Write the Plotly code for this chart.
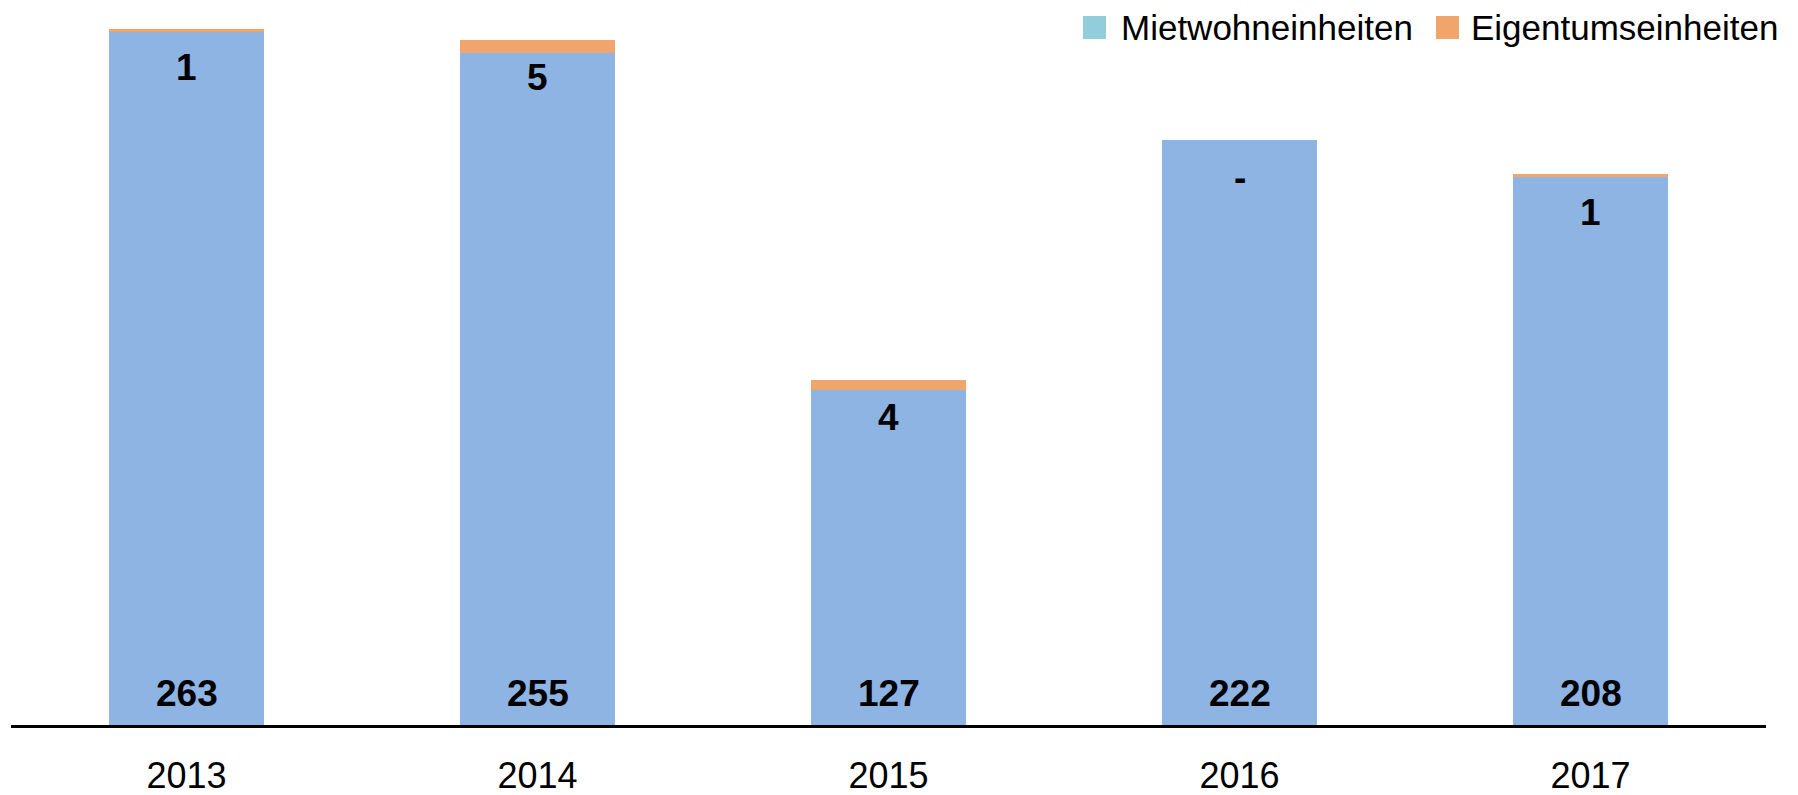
import plotly.graph_objects as go

# data
years = ["2013", "2014", "2015", "2016", "2017"]
miet = [263, 255, 127, 222, 208]
eigentum = [1, 5, 4, 0, 1]
series_names = ["Mietwohneinheiten", "Eigentumseinheiten"]

BAR_BLUE = "#8EB4E3"
LEG_BLUE = "#92CDDC"
ORANGE = "#F0A56D"
FONT = "Liberation Sans, Arial, sans-serif"

W, H = 1798, 795
ML, MR, MT, MB = 3, 40, 0, 78

fig = go.Figure()
fig.add_trace(go.Bar(x=years, y=miet, marker_color=BAR_BLUE, marker_line_width=0,
                     name=series_names[0], showlegend=False))
fig.add_trace(go.Bar(x=years, y=eigentum, marker_color=ORANGE, marker_line_width=0,
                     name=series_names[1], showlegend=False))

# value labels (x given as category index, years look numeric to plotly)
for i, (m, e) in enumerate(zip(miet, eigentum)):
    fig.add_annotation(x=i, y=0, text=f"<b>{m}</b>", showarrow=False,
                       yanchor="bottom", yshift=9,
                       font=dict(size=37, color="black", family=FONT))
    fig.add_annotation(x=i, y=m + e, text=f"<b>{e if e else '-'}</b>", showarrow=False,
                       yanchor="middle", yshift=-38,
                       font=dict(size=37, color="black", family=FONT))

# legend drawn by hand (the swatch colour differs from the bar colour)
pw = W - ML - MR
ph = H - MT - MB
def px(xp):
    return (xp - ML) / pw
def py(yp):
    return (H - MB - yp) / ph

legend = [(series_names[0], LEG_BLUE, 1075, 1111), (series_names[1], ORANGE, 1428, 1461)]
for name, col, sx, tx in legend:
    fig.add_shape(type="rect", xref="paper", yref="paper",
                  x0=px(sx), x1=px(sx + 23), y0=py(31), y1=py(8),
                  fillcolor=col, line_width=0)
    fig.add_annotation(xref="paper", yref="paper", x=px(tx), y=py(20),
                       xanchor="left", yanchor="middle", text=name, showarrow=False,
                       font=dict(size=35, color="black", family=FONT))

fig.update_layout(
    width=W, height=H,
    margin=dict(l=ML, r=MR, t=MT, b=MB),
    barmode="stack", bargap=0.56,
    plot_bgcolor="white", paper_bgcolor="white",
    font=dict(family=FONT, color="black"),
)
fig.update_xaxes(type="category", range=[-0.5, len(years) - 0.5], showline=True,
                 linecolor="black", linewidth=3, ticks="", ticklabelstandoff=17,
                 tickfont=dict(size=36, family=FONT, color="black"), showgrid=False)
fig.update_yaxes(range=[0, 272], visible=False, showgrid=False)

fig.write_html("out.html")
